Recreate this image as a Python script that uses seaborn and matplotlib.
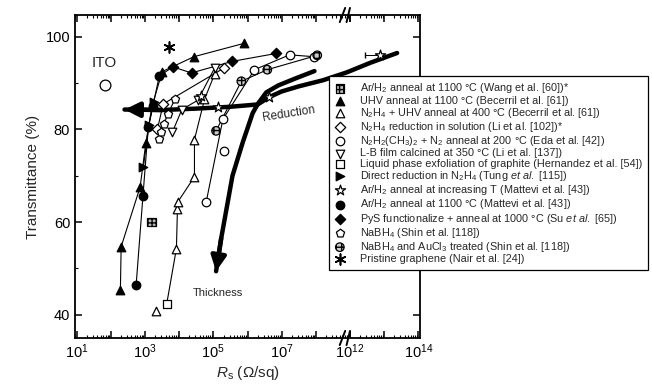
import numpy as np
import matplotlib
matplotlib.use('Agg')
import matplotlib.pyplot as plt
import seaborn as sns
from matplotlib import transforms
from matplotlib.ticker import FixedLocator, FuncFormatter

sns.set_theme(style='ticks')
plt.rcParams['font.family'] = ['Liberation Sans', 'DejaVu Sans']
plt.rcParams['mathtext.fontset'] = 'custom'
plt.rcParams['mathtext.rm'] = 'Liberation Sans'
plt.rcParams['mathtext.it'] = 'Liberation Sans:italic'
plt.rcParams['mathtext.bf'] = 'Liberation Sans:bold'

# ---------------- data (R_s in ohm/sq, T in %) ----------------
ito_R = [66]; ito_T = [89.7]
wang_R = [1.55e3]; wang_T = [60.0]
uhv_R = [190, 200, 720, 1050, 1600, 3200, 2.7e4, 8.1e5]
uhv_T = [45.3, 54.7, 67.6, 77.0, 85.0, 92.5, 95.7, 98.6]
n2h4uhv_R = [2.1e3, 8.3e3, 8.9e3, 9.2e3, 2.8e4, 2.8e4, 5.5e4, 1.1e5]
n2h4uhv_T = [40.8, 54.3, 62.9, 64.4, 69.8, 77.8, 86.5, 92.0]
li_R = [2.3e3, 3.4e3, 2.1e5]; li_T = [80.0, 85.5, 93.3]
eda_R = [6.2e4, 1.9e5, 1.6e6, 1.7e7, 9.0e7]; eda_T = [64.4, 82.2, 92.9, 96.1, 95.7]
eda_extra_R = [2.0e5]; eda_extra_T = [75.4]
lb_R = [6.3e3, 1.2e4, 3.5e4, 1.1e5]; lb_T = [79.4, 84.3, 86.3, 93.3]
lpe_R = [4.3e3]; lpe_T = [42.3]
tung_R = [900, 1300, 1800]; tung_T = [72.0, 81.0, 86.0]
matT_R = [4.5e4, 1.35e5, 4.4e6, 7.8e12]; matT_T = [87.2, 84.8, 87.1, 96.1]
matT_err_lo = [0, 0, 0, 5.0e12]
mat_R = [550, 870, 1250, 1700, 2600]; mat_T = [46.5, 65.7, 80.5, 85.0, 91.5]
su_R = [6.5e3, 2.3e4, 3.6e5, 6.9e6]; su_T = [93.5, 92.2, 94.7, 96.4]
shin_R = [2.6e3, 2.9e3, 3.6e3, 4.6e3, 7.5e3]; shin_T = [78.0, 79.5, 81.1, 83.3, 86.5]
shinau_R = [1.2e5, 6.6e5, 3.8e6, 1.1e8]; shinau_T = [79.7, 90.4, 92.9, 96.0]
pristine_R = [5.2e3]; pristine_T = [97.9]

red_R = [10**2.40, 10**3.5, 10**4.5, 10**5.5, 10**6.3, 10**6.64, 10**7.0, 10**7.5,
         10**8.2, 10**8.9, 10**12.6, 10**13.38]
red_T = [84.3, 84.2, 84.5, 84.9, 85.4, 87.0, 88.2, 89.3, 90.6, 92.3, 94.4, 96.5]
thk_R = [10**7.96, 10**7.4, 10**6.9, 10**6.55, 10**6.3, 10**6.15, 10**5.86,
         10**5.56, 10**5.23, 10**5.08]
thk_T = [92.6, 91.0, 89.5, 88.0, 85.5, 83.5, 77.2, 70.0, 56.5, 49.4]

labels = [
    r'Ar/H$_2$ anneal at 1100 °C (Wang et al. [60])*',
    r'UHV anneal at 1100 °C (Becerril et al. [61])',
    r'N$_2$H$_4$ + UHV anneal at 400 °C (Becerril et al. [61])',
    r'N$_2$H$_4$ reduction in solution (Li et al. [102])*',
    r'N$_2$H$_2$(CH$_3$)$_2$ + N$_2$ anneal at 200 °C (Eda et al. [42])',
    r'L-B film calcined at 350 °C (Li et al. [137])',
    r'Liquid phase exfoliation of graphite (Hernandez et al. [54])',
    r'Direct reduction in N$_2$H$_4$ (Tung $et\ al.$ [115])',
    r'Ar/H$_2$ anneal at increasing T (Mattevi et al. [43])',
    r'Ar/H$_2$ anneal at 1100 °C (Mattevi et al. [43])',
    r'PyS functionalize + anneal at 1000 °C (Su $et\ al.$ [65])',
    r'NaBH$_4$ (Shin et al. [118])',
    r'NaBH$_4$ and AuCl$_3$ treated (Shin et al. [118])',
    r'Pristine graphene (Nair et al. [24])',
]

# ---------------- broken log axis ----------------
def fwd(x):
    x = np.asarray(x, dtype=float)
    l = np.log10(np.clip(x, 1e-300, None))
    return np.where(l <= 9, l, np.where(l >= 12, l - 3, 9.0))

def inv(u):
    u = np.asarray(u, dtype=float)
    return np.where(u <= 9, 10.0**u, 10.0**(u + 3))

fig = plt.figure(figsize=(6.52, 3.92), dpi=100)
ax = fig.add_axes([75/652, 1 - 338/392, (420-75)/652, (338-15)/392])
ax.set_xscale('function', functions=(fwd, inv))
ax.set_xlim(10**0.95, 10**14.05)
ax.set_ylim(35, 104.7)

lw = 0.8
def line(R, T, **kw):
    sns.lineplot(x=R, y=T, sort=False, estimator=None, color='black', ax=ax, **kw)

# thin connecting lines
line(uhv_R, uhv_T, lw=lw)
line([lpe_R[0]] + n2h4uhv_R[1:], [lpe_T[0]] + n2h4uhv_T[1:], lw=lw)
line(mat_R, mat_T, lw=lw)
line([mat_R[-1]] + su_R, [mat_T[-1]] + su_T, lw=lw)
line(eda_R, eda_T, lw=lw)
line(shinau_R, shinau_T, lw=lw)
line(lb_R, lb_T, lw=lw)
line(tung_R, tung_T, lw=lw)
line(shin_R, shin_T, lw=lw)
line(li_R, li_T, lw=lw)

# thick guide curves
line(red_R, red_T, lw=3.2)
line(thk_R, thk_T, lw=3.2)
ax.annotate('', xy=(red_R[0], red_T[0]), xytext=(red_R[1], red_T[1]),
            arrowprops=dict(arrowstyle='-|>', color='black', lw=3.2, mutation_scale=22, shrinkA=0, shrinkB=0))
ax.annotate('', xy=(thk_R[-1], thk_T[-1]), xytext=(thk_R[-2], thk_T[-2]),
            arrowprops=dict(arrowstyle='-|>', color='black', lw=3.2, mutation_scale=22, shrinkA=0, shrinkB=0))

# error bar of last star
ax.errorbar(matT_R[-1:], matT_T[-1:], xerr=[matT_err_lo[-1:], [0]], fmt='none',
            ecolor='black', elinewidth=0.7, capsize=2, ls='--')

s = 38
kw_open = dict(color='white', edgecolor='black', linewidth=0.9, s=s, ax=ax, zorder=4)
kw_fill = dict(color='black', edgecolor='black', linewidth=0.9, s=s, ax=ax, zorder=4)
sns.scatterplot(x=ito_R, y=ito_T, marker='o', **{**kw_open, 's': 60})
sns.scatterplot(x=wang_R, y=wang_T, marker='s', label=labels[0], hatch='++++', **{**kw_open, 'color': '#bbbbbb'})
sns.scatterplot(x=uhv_R, y=uhv_T, marker='^', label=labels[1], **kw_fill)
sns.scatterplot(x=n2h4uhv_R, y=n2h4uhv_T, marker='^', label=labels[2], **kw_open)
sns.scatterplot(x=li_R, y=li_T, marker='D', label=labels[3], **{**kw_open, 's': 28})
sns.scatterplot(x=eda_R + eda_extra_R, y=eda_T + eda_extra_T, marker='o', label=labels[4], **kw_open)
sns.scatterplot(x=lb_R, y=lb_T, marker='v', label=labels[5], **kw_open)
sns.scatterplot(x=lpe_R, y=lpe_T, marker='s', label=labels[6], **{**kw_open, 's': 30})
sns.scatterplot(x=tung_R, y=tung_T, marker='>', label=labels[7], **kw_fill)
sns.scatterplot(x=matT_R, y=matT_T, marker='*', label=labels[8], **{**kw_open, 's': 60})
sns.scatterplot(x=mat_R, y=mat_T, marker='o', label=labels[9], **kw_fill)
sns.scatterplot(x=su_R, y=su_T, marker='D', label=labels[10], **{**kw_fill, 's': 28})
sns.scatterplot(x=shin_R, y=shin_T, marker='p', label=labels[11], **kw_open)
sns.scatterplot(x=shinau_R, y=shinau_T, marker='o', label=labels[12], hatch='+++', **{**kw_open, 'color': '#cccccc'})
sns.scatterplot(x=pristine_R, y=pristine_T, marker=(6, 2, 0), label=labels[13],
                color='black', linewidth=1.2, s=60, ax=ax, zorder=4)

# text annotations
ax.text(ito_R[0], ito_T[0] + 4.7, 'ITO', ha='center', va='center', fontsize=11)
ax.text(10**7.2, 83.4, 'Reduction', ha='center', va='center', fontsize=8.5, rotation=9)
ax.text(10**5.12, 44.7, 'Thickness', ha='center', va='center', fontsize=8)

# ticks
major = [10.0**k for k in range(1, 10)] + [1e12, 1e13, 1e14]
minor = [m * 10.0**k for k in range(0, 9) for m in range(2, 10)] + \
        [m * 10.0**k for k in (12, 13) for m in range(2, 10)]
labeled = {1: '1', 3: '3', 5: '5', 7: '7', 12: '12', 14: '14'}
def fmt(v, pos):
    k = int(round(np.log10(v)))
    return r'$10^{%s}$' % labeled[k] if k in labeled else ''
ax.xaxis.set_major_locator(FixedLocator(major))
ax.xaxis.set_minor_locator(FixedLocator(minor))
ax.xaxis.set_major_formatter(FuncFormatter(fmt))
ax.set_yticks([40, 60, 80, 100])
ax.set_yticks([50, 70, 90], minor=True)
ax.tick_params(which='both', direction='in', top=True, right=True, labelsize=10.5, colors='black')
ax.tick_params(which='major', length=5, width=1.1)
ax.tick_params(which='minor', length=2.5, width=0.8)
for sp in ax.spines.values():
    sp.set_linewidth(1.3)
    sp.set_color('black')

ax.set_xlabel(r'$R_\mathrm{s}$ ($\Omega$/sq)', fontsize=11, labelpad=2)
ax.set_ylabel('Transmittance (%)', fontsize=11, labelpad=4)

# axis break marks (two short slanted strokes on bottom and top spines)
tr = transforms.blended_transform_factory(ax.transData, ax.transAxes)
for yy in (0, 1):
    for uc in (8.78, 8.98):
        ax.plot([10**(uc - 0.08), 10**(uc + 0.08)], [yy - 0.022, yy + 0.022], transform=tr,
                color='black', lw=1.4, clip_on=False, zorder=6)

handles, labs = ax.get_legend_handles_labels()
leg = ax.legend(handles, labs, loc='upper left', bbox_to_anchor=(329/652, 1 - 76/392),
                bbox_transform=fig.transFigure, fontsize=7.8, frameon=True, fancybox=False,
                edgecolor='black', framealpha=1, borderaxespad=0, labelspacing=0.02,
                handletextpad=1.4, borderpad=0.5, handlelength=1.0)
leg.get_frame().set_linewidth(0.9)
leg.set_zorder(10)

fig.savefig('out.png', dpi=100)
